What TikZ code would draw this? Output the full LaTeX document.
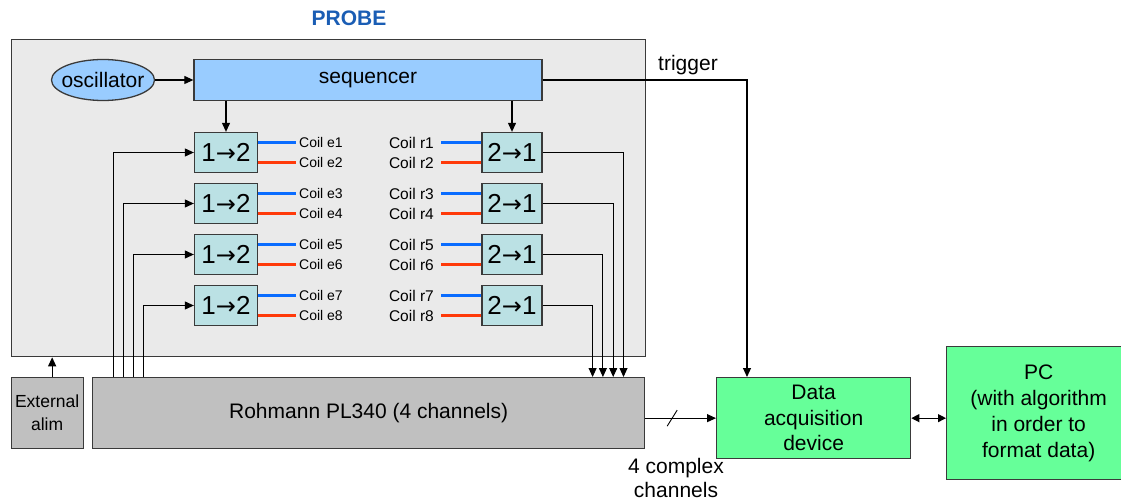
\documentclass[tikz,border=0pt]{standalone}
\usepackage{fontspec}
\setmainfont{Liberation Sans}
\newfontfamily\arrowfont{DejaVu Sans}
\usetikzlibrary{shapes.geometric,arrows.meta}
\definecolor{probegray}{HTML}{EAEAEA}
\definecolor{probeblue}{HTML}{1A5DB4}
\definecolor{seqblue}{HTML}{99CCFF}
\definecolor{switchcyan}{HTML}{BBE1E4}
\definecolor{rohgray}{HTML}{C0C0C0}
\definecolor{daqgreen}{HTML}{66FF99}
\definecolor{coilblue}{HTML}{0A6CFF}
\definecolor{coilred}{HTML}{FF3A0A}
\definecolor{edgegray}{HTML}{3A3A3A}
\newcommand{\bigfont}{\fontsize{21}{25.5}\selectfont}
\newcommand{\sw}[2]{#1{\arrowfont\fontsize{24}{24}\selectfont→}#2}

\begin{document}
\begin{tikzpicture}[x=1pt,y=-1pt,
  box/.style={draw=edgegray,line width=1.3pt,inner sep=0pt},
  switchbox/.style={box,fill=switchcyan,minimum width=63,minimum height=40,font=\fontsize{26}{26}\selectfont},
  coille/.style={inner sep=3pt,font=\fontsize{14}{14}\selectfont},
  coillr/.style={inner sep=0pt,inner xsep=7pt,font=\fontsize{15.5}{15.5}\selectfont},
  coilb/.style={draw=coilblue,line width=3pt},
  coilr/.style={draw=coilred,line width=3pt},
  link/.style={draw=black,line width=1.1pt,-{Triangle[length=9pt,width=8pt]}},
  feed/.style={draw=black,line width=0.9pt,-{Triangle[length=9pt,width=8pt]}}]
  \useasboundingbox (0,0) rectangle (1121,502);
  \node[box,fill=probegray,minimum width=634,minimum height=317,anchor=north west] (probe) at (10.5,39) {};
  \node[font=\bigfont\bfseries,text=probeblue] (probelbl) at (349,18) {PROBE};
  \node[box,ellipse,inner xsep=-6pt,fill=seqblue,minimum width=103,minimum height=41,font=\bigfont] (osc) at (103,80) {oscillator};
  \node[box,fill=seqblue,minimum width=348,minimum height=41,font=\bigfont] (seq) at (368,80) {sequencer};
  \node[box,fill=rohgray,minimum width=552,minimum height=71,anchor=north west,font=\bigfont] (rohmann) at (92,377) {Rohmann PL340 (4 channels)};
  \node[box,fill=rohgray,minimum width=72,minimum height=71,anchor=north west,align=center,font=\fontsize{17.5}{23}\selectfont] (alim) at (10.5,377) {External\\alim};
  \node[box,fill=daqgreen,minimum width=194,minimum height=81,anchor=north west,align=center,font=\bigfont] (daq) at (716,377) {Data\\acquisition\\device};
  \node[box,fill=daqgreen,minimum width=184,minimum height=133,anchor=north west,align=center,font=\fontsize{21}{26}\selectfont] (pc) at (946,346) {PC\\(with algorithm\\in order to\\format data)};
  \node[font=\bigfont] (trglbl) at (688,65) {trigger};
  \node[align=center,font=\fontsize{21}{24}\selectfont] (chlbl) at (676,478) {4 complex\\channels};
  \foreach \i [evaluate=\i as \y using 152.5+(\i-1)*51,
               evaluate=\i as \a using int(2*\i-1),
               evaluate=\i as \b using int(2*\i),
               evaluate=\i as \xin using 113+(\i-1)*10.3,
               evaluate=\i as \xout using 623.5-(\i-1)*10.3] in {1,...,4} {
    \node[switchbox] (in\i) at (226,\y) {\sw{1}{2}};
    \node[switchbox,minimum width=60] (out\i) at (512,\y) {\sw{2}{1}};
    \node[coille,anchor=west] (ce\a) at (296,\y-10) {Coil e\a};
    \node[coille,anchor=west] (ce\b) at (296,\y+10) {Coil e\b};
    \node[coillr,anchor=east] (cr\a) at (441,\y-10) {Coil r\a};
    \node[coillr,anchor=east] (cr\b) at (441,\y+10) {Coil r\b};
    \draw[coilb] (in\i.east |- ce\a) -- (ce\a.west);
    \draw[coilr] (in\i.east |- ce\b) -- (ce\b.west);
    \draw[coilb] (cr\a.east) -- (out\i.west |- cr\a);
    \draw[coilr] (cr\b.east) -- (out\i.west |- cr\b);
    \coordinate (feed\i) at (\xin,377);
    \coordinate (tap\i) at (\xout,377);
    \draw[feed] (feed\i) |- (in\i);
    \draw[feed] (out\i) -| (tap\i);
  }
  \draw[link] (osc) -- (seq);
  \draw[link] (seq.south -| in1) -- (in1);
  \draw[link] (seq.south -| out1) -- (out1);
  \draw[link] (seq) -| ([xshift=31]daq.north west);
  \draw[link] ([xshift=5]alim.north) -- ([xshift=5]alim.north |- probe.south);
  \draw[link] (rohmann.east |- daq.west) -- coordinate[pos=0.38] (cut) (daq.west);
  \draw[line width=0.9pt] (cut) ++(-5,8) -- ++(10,-16);
  \draw[line width=1.1pt,{Triangle[length=8pt,width=8pt]}-{Triangle[length=8pt,width=8pt]}] (daq.east) -- (pc.west |- daq.east);
\end{tikzpicture}
\end{document}
